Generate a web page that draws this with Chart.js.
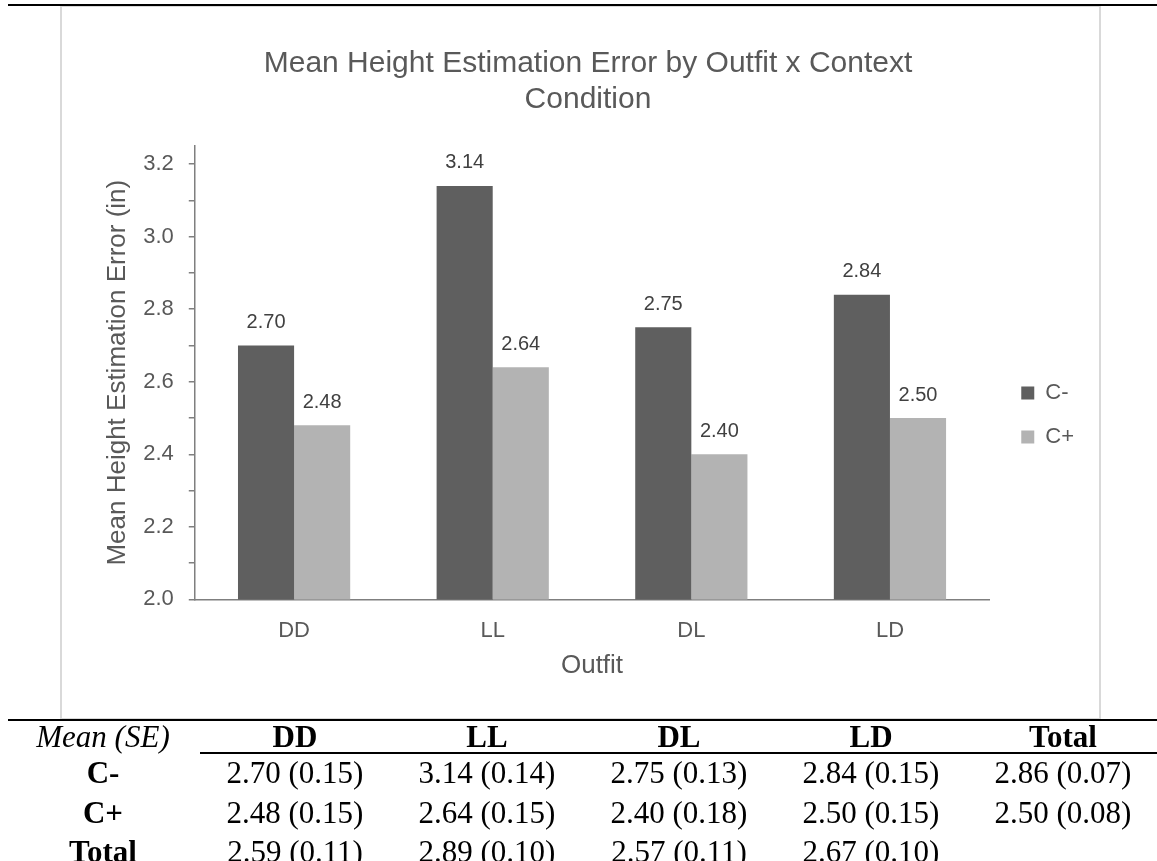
<!DOCTYPE html>
<html>
<head>
<meta charset="utf-8">
<script src="https://cdn.jsdelivr.net/npm/chart.js@4.4.1/dist/chart.umd.min.js"></script>
<style>
  html, body { margin: 0; padding: 0; background: #fff; }
  body { width: 1157px; height: 861px; position: relative; overflow: hidden;
         font-family: "Liberation Serif", "Times New Roman", serif; color: #000; }
  .rule { position: absolute; background: #000; height: 2px; z-index: 3; }
  #box { position: absolute; left: 60px; top: 5px; width: 1037px; height: 711px;
         border: 2px solid #d9d9d9; z-index: 1; }
  #chart { position: absolute; left: 0; top: 0; z-index: 2; }
  .cell { position: absolute; font-size: 31px; line-height: 36px; white-space: nowrap;
          transform: translate(-50%, -50%); z-index: 3; }
  .b { font-weight: bold; }
  .i { font-style: italic; }
</style>
</head>
<body>
<div class="rule" style="left:8px; right:0; top:4px;"></div>
<div id="box"></div>
<canvas id="chart" width="1157" height="861"></canvas>
<div class="rule" style="left:8px; right:0; top:719px;"></div>
<div class="rule" style="left:200px; right:0; top:752px;"></div>
<div id="table"></div>

<script>
// ── chart data ──
const categories  = ["DD", "LL", "DL", "LD"];
const seriesNames = ["C-", "C+"];
const cMinus      = [2.70, 3.14, 2.75, 2.84];
const cPlus       = [2.48, 2.64, 2.40, 2.50];
const yTickLabels = ["2.0", "2.2", "2.4", "2.6", "2.8", "3.0", "3.2"];
const yMinorTicks = [2.1, 2.3, 2.5, 2.7, 2.9, 3.1];

// ── table under the chart ──
const tableHead = ["Mean (SE)", "DD", "LL", "DL", "LD", "Total"];
const rowCMinus = ["C-", "2.70 (0.15)", "3.14 (0.14)", "2.75 (0.13)", "2.84 (0.15)", "2.86 (0.07)"];
const rowCPlus  = ["C+", "2.48 (0.15)", "2.64 (0.15)", "2.40 (0.18)", "2.50 (0.15)", "2.50 (0.08)"];
const rowTotal  = ["Total", "2.59 (0.11)", "2.89 (0.10)", "2.57 (0.11)", "2.67 (0.10)", ""];

const GREY = "#595959";
const SANS = '"Liberation Sans", Arial, sans-serif';
const TICK_PAD_Y = 15;
const TICK_PAD_X = 18;

// column centres / row centres of the table (layout only)
const colX = [103, 295, 487, 679, 871, 1063];
const rowY = [737, 773, 813, 852];

function buildTable() {
  const host = document.getElementById("table");
  const rows = [tableHead, rowCMinus, rowCPlus, rowTotal];
  rows.forEach((row, r) => {
    row.forEach((txt, c) => {
      if (!txt) return;
      const d = document.createElement("div");
      d.className = "cell";
      if (r === 0 && c === 0) d.classList.add("i");
      else if (r === 0 || c === 0) d.classList.add("b");
      d.style.left = colX[c] + "px";
      d.style.top  = rowY[r] + "px";
      d.textContent = txt;
      host.appendChild(d);
    });
  });
}

const majorValues = yTickLabels.map(Number);
const allTicks = majorValues.concat(yMinorTicks).sort((a, b) => a - b);

// value labels above each bar
const barValueLabels = {
  id: "barValueLabels",
  afterDatasetsDraw(chart) {
    const ctx = chart.ctx;
    ctx.save();
    ctx.font = "20px " + SANS;
    ctx.fillStyle = "#404040";
    ctx.textAlign = "center";
    ctx.textBaseline = "middle";
    chart.data.datasets.forEach((ds, i) => {
      chart.getDatasetMeta(i).data.forEach((bar, j) => {
        ctx.fillText(ds.data[j].toFixed(2), bar.x, bar.y - 23);
      });
    });
    ctx.restore();
  }
};

// push the legend a little to the right, like Excel does
const legendNudge = {
  id: "legendNudge",
  afterLayout(chart) {
    const l = chart.legend;
    if (!l) return;
    l.left += 10; l.right += 10;
  }
};

function initChart() {
  new Chart(document.getElementById("chart"), {
    type: "bar",
    data: {
      labels: categories,
      datasets: [
        { label: seriesNames[0], data: cMinus, backgroundColor: "#5f5f5f" },
        { label: seriesNames[1], data: cPlus,  backgroundColor: "#b3b3b3" }
      ]
    },
    options: {
      responsive: false,
      animation: false,
      devicePixelRatio: 1,
      categoryPercentage: 0.565,
      barPercentage: 1.0,
      layout: { padding: { left: 102, right: 83, top: 0, bottom: 31 } },
      plugins: {
        tooltip: { enabled: false },
        title: {
          display: true,
          text: ["Mean Height Estimation Error by Outfit x Context", "Condition"],
          color: GREY,
          font: { family: SANS, size: 30, weight: "normal", lineHeight: 1.2 },
          padding: { top: 46, bottom: 28 }
        },
        legend: {
          position: "right",
          align: "center",
          labels: {
            color: GREY,
            font: { family: SANS, size: 22 },
            boxWidth: 13, boxHeight: 13,
            padding: 22
          }
        }
      },
      scales: {
        x: {
          offset: true,
          // chart.js counts tick padding twice when sizing the axis
          afterFit: s => { s.height -= TICK_PAD_X; },
          grid: { display: false, drawTicks: false },
          border: { color: "#7f7f7f", width: 1.5 },
          ticks: { color: GREY, font: { family: SANS, size: 22 }, padding: TICK_PAD_X },
          title: {
            display: true, text: "Outfit", color: GREY,
            font: { family: SANS, size: 26 },
            padding: { top: 6, bottom: 149 }
          }
        },
        y: {
          min: 2.0,
          max: 3.25,
          afterFit: s => { s.width -= TICK_PAD_Y; },
          afterBuildTicks: s => { s.ticks = allTicks.map(v => ({ value: v })); },
          grid: { drawOnChartArea: false, drawTicks: true, tickLength: 6, color: "#7f7f7f", lineWidth: 1.5 },
          border: { color: "#7f7f7f", width: 1.5 },
          ticks: {
            color: GREY,
            font: { family: SANS, size: 22 },
            padding: TICK_PAD_Y,
            callback: v => {
              const i = majorValues.findIndex(t => Math.abs(t - v) < 1e-6);
              return i >= 0 ? yTickLabels[i] : "";
            }
          },
          title: {
            display: true, text: "Mean Height Estimation Error (in)", color: GREY,
            font: { family: SANS, size: 26 },
            padding: { top: 0, bottom: 10 }
          }
        }
      }
    },
    plugins: [barValueLabels, legendNudge]
  });
}

buildTable();
initChart();
</script>
</body>
</html>
